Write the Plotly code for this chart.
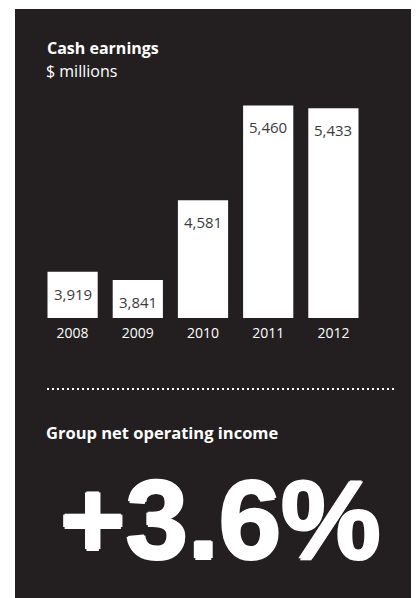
import plotly.graph_objects as go

years = ["2008", "2009", "2010", "2011", "2012"]
cash_earnings = [3919.0, 3841.0, 4581.0, 5460.0, 5433.0]
value_labels = ["3,919", "3,841", "4,581", "5,460", "5,433"]
title_text = "Cash earnings"
subtitle_text = "$ millions"
kpi_title = "Group net operating income"
kpi_value = "+3.6%"

BG = "#231f20"
OFF = 8                      # page body margin offset
W, H = 419 - OFF, 598 - OFF
ML, MT = 32, 92
PW, PH = 326, 218
MR = W - ML - PW
MB = H - MT - PH

x_pos = list(range(len(years)))


def px_x(p):
    """reference pixel x -> paper x"""
    return (p - OFF - ML) / PW


def px_y(p):
    """reference pixel y -> paper y"""
    return (MT + PH - (p - OFF)) / PH


fig = go.Figure()
fig.add_trace(go.Bar(
    x=x_pos, y=cash_earnings, width=0.77, orientation="v",
    marker=dict(color="white", line=dict(width=0)),
    hoverinfo="skip",
))

# panel background
fig.add_shape(type="rect", xref="paper", yref="paper",
              x0=px_x(15), x1=px_x(430), y0=px_y(610), y1=px_y(9),
              fillcolor=BG, line=dict(width=0), layer="below")

annotations = []
for xp, v, lab in zip(x_pos, cash_earnings, value_labels):
    annotations.append(dict(x=xp, y=v, xref="x", yref="y", text=lab,
                            showarrow=False, xanchor="center", yanchor="top", yshift=-10,
                            font=dict(family="Open Sans", size=15, color="#3c3a3b")))

annotations += [
    dict(x=px_x(45), y=px_y(48), xref="paper", yref="paper", text="<b>" + title_text + "</b>",
         showarrow=False, xanchor="left", yanchor="middle",
         font=dict(family="Open Sans", size=16, color="white")),
    dict(x=px_x(44), y=px_y(71), xref="paper", yref="paper", text=subtitle_text,
         showarrow=False, xanchor="left", yanchor="middle",
         font=dict(family="Open Sans", size=16, color="white")),
    dict(x=px_x(44), y=px_y(432), xref="paper", yref="paper", text="<b>" + kpi_title + "</b>",
         showarrow=False, xanchor="left", yanchor="middle",
         font=dict(family="Open Sans", size=16.5, color="white")),
    dict(x=px_x(220), y=px_y(519), xref="paper", yref="paper", text="<b>" + kpi_value + "</b>",
         showarrow=False, xanchor="center", yanchor="middle",
         font=dict(family="Liberation Sans", size=112, color="white",
                   shadow="1.5px 0 0 white, -1.5px 0 0 white, 0 1.5px 0 white, 0 -1.5px 0 white")),
]

fig.add_shape(type="line", xref="paper", yref="paper",
              x0=px_x(47), x1=px_x(397), y0=px_y(389), y1=px_y(389),
              line=dict(color="white", width=2, dash="2px,3px"))

fig.update_layout(
    width=W, height=H,
    margin=dict(l=ML, r=MR, t=MT, b=MB, pad=0),
    paper_bgcolor="white", plot_bgcolor=BG,
    showlegend=False,
    annotations=annotations,
    xaxis=dict(type="linear", range=[-0.5, len(years) - 0.5], autorange=False,
               tickmode="array", tickvals=x_pos, ticktext=years,
               showgrid=False, zeroline=False, showline=False, ticks="",
               tickfont=dict(family="Open Sans", size=14, color="white"),
               ticklabelstandoff=5),
    yaxis=dict(range=[3490, 5510], autorange=False, visible=False, showgrid=False),
)

fig.write_html("out.html")
